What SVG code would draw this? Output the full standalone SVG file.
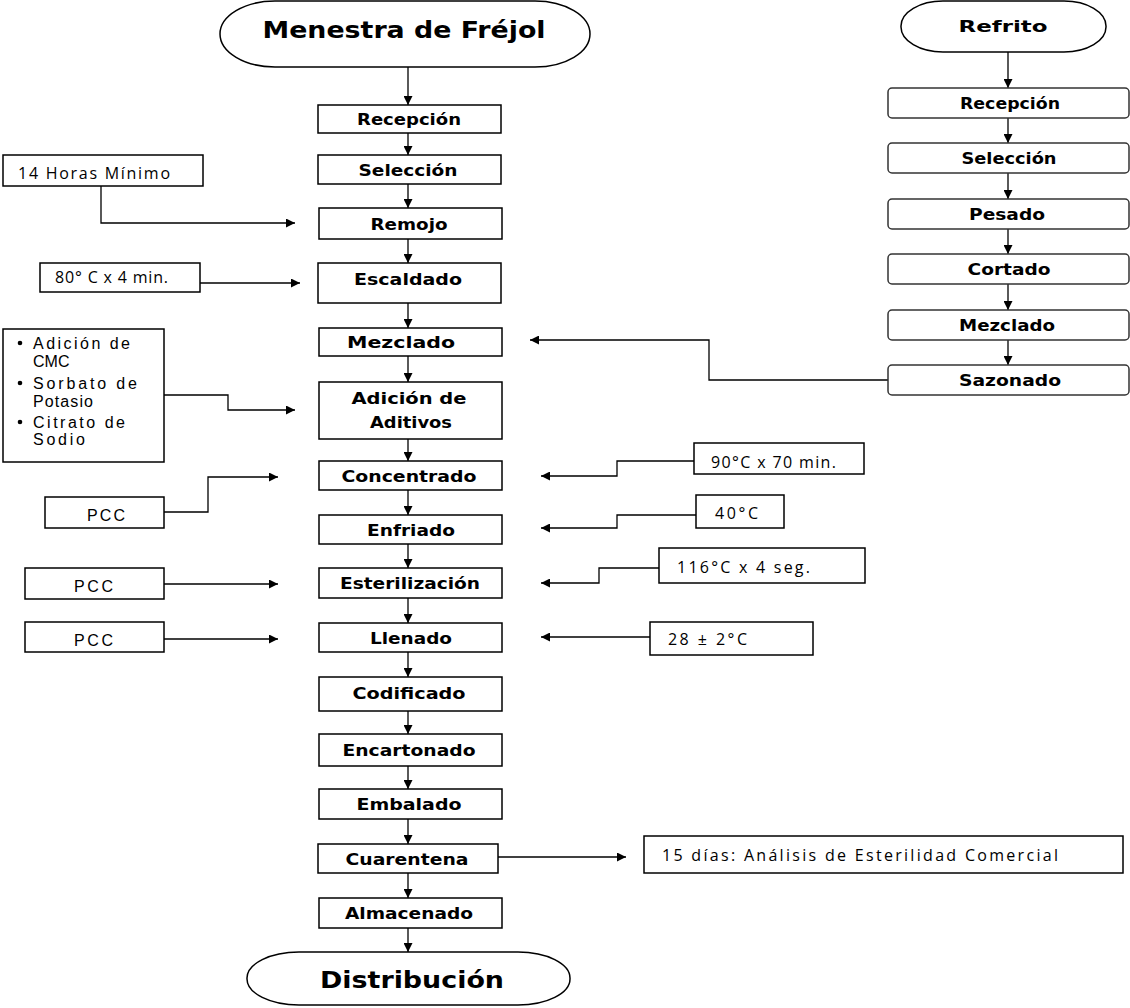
<svg xmlns="http://www.w3.org/2000/svg" width="1130" height="1008" viewBox="0 0 1130 1008">
<defs>
<marker id="ah" viewBox="0 0 10 10" refX="10" refY="5" markerWidth="10" markerHeight="9" markerUnits="userSpaceOnUse" orient="auto">
<path d="M0,0 L10,5 L0,10 z" fill="#000"/>
</marker>
<style>
.bx{fill:#fff;stroke:#000;stroke-width:1.5}
.rb{fill:#fff;stroke:#333;stroke-width:1.5}
.lb{font-family:"DejaVu Sans","Liberation Sans",sans-serif;font-weight:bold;font-size:16px;fill:#000;text-anchor:middle}
.tt{font-family:"DejaVu Sans","Liberation Sans",sans-serif;font-weight:bold;font-size:23px;fill:#000;text-anchor:middle}
.nt{font-family:"Open Sans","Liberation Sans",sans-serif;font-size:16px;fill:#000}
.at{font-family:"Liberation Sans","DejaVu Sans",sans-serif;font-size:16px;fill:#000}
.cn{fill:none;stroke:#000;stroke-width:1.3;marker-end:url(#ah)}
</style>
</defs>
<rect width="1130" height="1008" fill="#fff"/>

<g id="connectors">
<path class="cn" d="M408,67 V105"/>
<path class="cn" d="M408,133 V155"/>
<path class="cn" d="M408,184 V208"/>
<path class="cn" d="M408,239 V263"/>
<path class="cn" d="M408,303 V328"/>
<path class="cn" d="M408,356 V382"/>
<path class="cn" d="M408,439 V461"/>
<path class="cn" d="M408,490 V515"/>
<path class="cn" d="M408,544 V568"/>
<path class="cn" d="M408,598 V623"/>
<path class="cn" d="M408,652 V677"/>
<path class="cn" d="M408,711 V734"/>
<path class="cn" d="M408,766 V789"/>
<path class="cn" d="M408,819 V844"/>
<path class="cn" d="M408,873 V898"/>
<path class="cn" d="M408,928 V952"/>
<path class="cn" d="M1008,52 V88"/>
<path class="cn" d="M1008,118 V143"/>
<path class="cn" d="M1008,173 V199"/>
<path class="cn" d="M1008,229 V254"/>
<path class="cn" d="M1008,284 V310"/>
<path class="cn" d="M1008,340 V365"/>
<path class="cn" d="M888,380 H709 V340 H530"/>
<path class="cn" d="M101,186 V223 H295"/>
<path class="cn" d="M200,283 H300"/>
<path class="cn" d="M164,395 H228 V410 H295"/>
<path class="cn" d="M164,512 H208 V477 H278"/>
<path class="cn" d="M164,584 H278"/>
<path class="cn" d="M164,639 H278"/>
<path class="cn" d="M694,461 H617 V476 H541"/>
<path class="cn" d="M696,515 H617 V528 H541"/>
<path class="cn" d="M659,568 H599 V583 H541"/>
<path class="cn" d="M650,637 H541"/>
<path class="cn" d="M498,857 H626"/>
</g>

<g id="n-menestra"><rect class="bx" x="220" y="1" width="370" height="66" rx="55" ry="33"/><text class="tt" x="404" y="38" textLength="283" lengthAdjust="spacingAndGlyphs">Menestra de Fréjol</text></g>
<g id="n-recepcion"><rect class="bx" x="318" y="105" width="183" height="28"/><text class="lb" x="409" y="125" textLength="104" lengthAdjust="spacingAndGlyphs">Recepción</text></g>
<g id="n-seleccion"><rect class="bx" x="318" y="155" width="183" height="29"/><text class="lb" x="408" y="175.5" textLength="99" lengthAdjust="spacingAndGlyphs">Selección</text></g>
<g id="n-remojo"><rect class="bx" x="319" y="208" width="183" height="31"/><text class="lb" x="409" y="229.5" textLength="77" lengthAdjust="spacingAndGlyphs">Remojo</text></g>
<g id="n-escaldado"><rect class="bx" x="318" y="263" width="183" height="40"/><text class="lb" x="408" y="285" textLength="108" lengthAdjust="spacingAndGlyphs">Escaldado</text></g>
<g id="n-mezclado"><rect class="bx" x="319" y="328" width="183" height="28"/><text class="lb" x="401" y="348" textLength="108" lengthAdjust="spacingAndGlyphs">Mezclado</text></g>
<g id="n-adicion"><rect class="bx" x="319" y="382" width="183" height="57"/><text class="lb" x="409" y="404" textLength="115" lengthAdjust="spacingAndGlyphs">Adición de</text><text class="lb" x="411" y="428" textLength="82" lengthAdjust="spacingAndGlyphs">Aditivos</text></g>
<g id="n-concentrado"><rect class="bx" x="319" y="461" width="183" height="29"/><text class="lb" x="409" y="481.5" textLength="135" lengthAdjust="spacingAndGlyphs">Concentrado</text></g>
<g id="n-enfriado"><rect class="bx" x="319" y="515" width="183" height="29"/><text class="lb" x="411" y="535.5" textLength="88" lengthAdjust="spacingAndGlyphs">Enfriado</text></g>
<g id="n-esterilizacion"><rect class="bx" x="319" y="568" width="183" height="30"/><text class="lb" x="410" y="589" textLength="140" lengthAdjust="spacingAndGlyphs">Esterilización</text></g>
<g id="n-llenado"><rect class="bx" x="319" y="623" width="183" height="29"/><text class="lb" x="411" y="643.5" textLength="82" lengthAdjust="spacingAndGlyphs">Llenado</text></g>
<g id="n-codificado"><rect class="bx" x="319" y="677" width="183" height="34"/><text class="lb" x="409" y="699" textLength="113" lengthAdjust="spacingAndGlyphs">Codificado</text></g>
<g id="n-encartonado"><rect class="bx" x="319" y="734" width="183" height="32"/><text class="lb" x="409" y="755.5" textLength="133" lengthAdjust="spacingAndGlyphs">Encartonado</text></g>
<g id="n-embalado"><rect class="bx" x="319" y="789" width="183" height="30"/><text class="lb" x="409" y="809.5" textLength="105" lengthAdjust="spacingAndGlyphs">Embalado</text></g>
<g id="n-cuarentena"><rect class="bx" x="318" y="844" width="180" height="29"/><text class="lb" x="407" y="864.5" textLength="123" lengthAdjust="spacingAndGlyphs">Cuarentena</text></g>
<g id="n-almacenado"><rect class="bx" x="319" y="898" width="183" height="30"/><text class="lb" x="409" y="919" textLength="128" lengthAdjust="spacingAndGlyphs">Almacenado</text></g>
<g id="n-distribucion"><rect class="bx" x="247" y="952" width="323" height="53" rx="52" ry="26"/><text class="tt" x="412" y="988" textLength="184" lengthAdjust="spacingAndGlyphs">Distribución</text></g>

<g id="n-refrito"><rect class="bx" x="901" y="1" width="205" height="51" rx="42" ry="25"/><text class="lb" x="1003" y="32" font-size="20" textLength="89" lengthAdjust="spacingAndGlyphs">Refrito</text></g>
<g id="n-r-recepcion"><rect class="rb" x="888" y="88" width="241" height="30" rx="4"/><text class="lb" x="1010" y="109" textLength="100" lengthAdjust="spacingAndGlyphs">Recepción</text></g>
<g id="n-r-seleccion"><rect class="rb" x="888" y="143" width="241" height="30" rx="4"/><text class="lb" x="1009" y="164" textLength="95" lengthAdjust="spacingAndGlyphs">Selección</text></g>
<g id="n-r-pesado"><rect class="rb" x="888" y="199" width="241" height="30" rx="4"/><text class="lb" x="1007" y="220" textLength="76" lengthAdjust="spacingAndGlyphs">Pesado</text></g>
<g id="n-r-cortado"><rect class="rb" x="888" y="254" width="241" height="30" rx="4"/><text class="lb" x="1009" y="275" textLength="83" lengthAdjust="spacingAndGlyphs">Cortado</text></g>
<g id="n-r-mezclado"><rect class="rb" x="888" y="310" width="241" height="30" rx="4"/><text class="lb" x="1007" y="331" textLength="96" lengthAdjust="spacingAndGlyphs">Mezclado</text></g>
<g id="n-r-sazonado"><rect class="rb" x="888" y="365" width="241" height="30" rx="4"/><text class="lb" x="1010" y="386" textLength="102" lengthAdjust="spacingAndGlyphs">Sazonado</text></g>

<g id="n-14horas"><rect class="bx" x="3" y="155" width="200" height="31"/><text class="nt" x="18" y="178.5" textLength="152" lengthAdjust="spacing">14 Horas Mínimo</text></g>
<g id="n-80c"><rect class="bx" x="40" y="263" width="160" height="29"/><text class="nt" x="55" y="282.5" textLength="113" lengthAdjust="spacing">80° C x 4 min.</text></g>
<g id="n-aditivos"><rect class="bx" x="3" y="329" width="161" height="133"/>
<circle cx="20" cy="343" r="2.3" fill="#000"/><text class="at" x="33" y="348.5" textLength="97" lengthAdjust="spacing">Adición de</text>
<text class="at" x="33" y="366.5">CMC</text>
<circle cx="20" cy="383" r="2.3" fill="#000"/><text class="at" x="33" y="388.5" textLength="104" lengthAdjust="spacing">Sorbato de</text>
<text class="at" x="33" y="406.5" textLength="60" lengthAdjust="spacing">Potasio</text>
<circle cx="20" cy="422" r="2.3" fill="#000"/><text class="at" x="33" y="427.5" textLength="92" lengthAdjust="spacing">Citrato de</text>
<text class="at" x="33" y="444.5" textLength="52" lengthAdjust="spacing">Sodio</text></g>
<g id="n-pcc1"><rect class="bx" x="45" y="497" width="119" height="31"/><text class="at" x="87" y="520.5" textLength="38" lengthAdjust="spacing">PCC</text></g>
<g id="n-pcc2"><rect class="bx" x="25" y="568" width="139" height="31"/><text class="at" x="74" y="591.5" textLength="39" lengthAdjust="spacing">PCC</text></g>
<g id="n-pcc3"><rect class="bx" x="25" y="622" width="139" height="30"/><text class="at" x="74" y="645.5" textLength="39" lengthAdjust="spacing">PCC</text></g>
<g id="n-90c"><rect class="bx" x="694" y="443" width="170" height="31"/><text class="nt" x="711" y="467.5" textLength="125" lengthAdjust="spacing">90°C x 70 min.</text></g>
<g id="n-40c"><rect class="bx" x="696" y="495" width="88" height="33"/><text class="nt" x="715" y="518.5" textLength="43" lengthAdjust="spacing">40°C</text></g>
<g id="n-116c"><rect class="bx" x="659" y="548" width="206" height="35"/><text class="nt" x="677" y="573" font-size="17" textLength="133" lengthAdjust="spacing">116°C x 4 seg.</text></g>
<g id="n-28c"><rect class="bx" x="650" y="622" width="163" height="33"/><text class="nt" x="668" y="645" font-size="17" textLength="79" lengthAdjust="spacing">28 ± 2°C</text></g>
<g id="n-15dias"><rect class="bx" x="644" y="836" width="479" height="37"/><text class="nt" x="662" y="860.5" font-size="18" textLength="396" lengthAdjust="spacing">15 días: Análisis de Esterilidad Comercial</text></g>
</svg>
